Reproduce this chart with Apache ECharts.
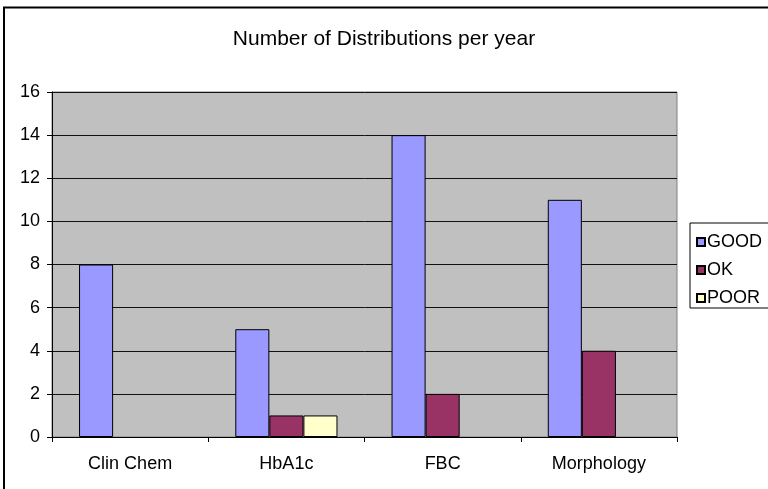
<!DOCTYPE html>
<html>
<head>
<meta charset="utf-8">
<script src="https://cdn.jsdelivr.net/npm/echarts@6/dist/echarts.min.js"></script>
<style>
  html, body { margin: 0; padding: 0; background: #fff; }
  #chart { width: 768px; height: 489px; }
</style>
</head>
<body>
<div id="chart"></div>
<script>
// Distribution counts per scheme, split by performance rating
const categories = ['Clin Chem', 'HbA1c', 'FBC', 'Morphology'];
const goodValues = [8, 5, 14, 11];
const okValues = [null, 1, 2, 4];
const poorValues = [null, 1, null, null];
const seriesNames = ['GOOD', 'OK', 'POOR'];
const yTicks = { min: 0, max: 16, step: 2 };

const font = 'Liberation Sans, Arial, sans-serif';
const chart = echarts.init(document.getElementById('chart'), null, { renderer: 'canvas' });

function barSeries(name, data, color) {
  return {
    name: name,
    type: 'bar',
    data: data,
    barGap: '0%',
    barCategoryGap: '34.6%',
    itemStyle: { color: color, borderColor: '#000', borderWidth: 1 }
  };
}

chart.setOption({
  animation: false,
  backgroundColor: '#fff',
  textStyle: { fontFamily: font },
  graphic: [{
    type: 'rect',
    shape: { x: 4, y: 7.5, width: 800, height: 520 },
    style: { fill: 'none', stroke: '#000', lineWidth: 2 },
    z: 100
  }],
  title: {
    text: 'Number of Distributions per year',
    left: 'center',
    top: 24,
    textStyle: { fontFamily: font, fontSize: 21, fontWeight: 'normal', color: '#000' }
  },
  legend: {
    orient: 'vertical',
    left: 690,
    top: 223,
    padding: [10, 30, 1, 6],
    itemWidth: 8,
    itemHeight: 8,
    itemGap: 10,
    borderColor: '#000',
    borderWidth: 1,
    backgroundColor: '#fff',
    icon: 'rect',
    textStyle: { fontFamily: font, fontSize: 18, color: '#000', padding: [0, 0, 0, -3] },
    data: seriesNames
  },
  grid: {
    left: 52,
    top: 92,
    width: 625,
    height: 345,
    show: true,
    backgroundColor: '#c0c0c0',
    borderColor: '#808080',
    borderWidth: 1
  },
  xAxis: {
    type: 'category',
    data: categories,
    axisLine: { lineStyle: { color: '#000', width: 1 } },
    axisTick: { show: true, length: 5, lineStyle: { color: '#000' } },
    axisLabel: { fontFamily: font, fontSize: 18, color: '#000', margin: 18 },
    splitLine: { show: false }
  },
  yAxis: {
    type: 'value',
    min: yTicks.min,
    max: yTicks.max,
    interval: yTicks.step,
    axisLine: { show: true, lineStyle: { color: '#000', width: 1 } },
    axisTick: { show: true, length: 5, lineStyle: { color: '#000' } },
    axisLabel: { fontFamily: font, fontSize: 18, color: '#000', margin: 12 },
    splitLine: { show: true, lineStyle: { color: '#111', width: 1 } }
  },
  series: [
    barSeries(seriesNames[0], goodValues, '#9999ff'),
    barSeries(seriesNames[1], okValues, '#993366'),
    barSeries(seriesNames[2], poorValues, '#ffffcc')
  ]
});
</script>
</body>
</html>
